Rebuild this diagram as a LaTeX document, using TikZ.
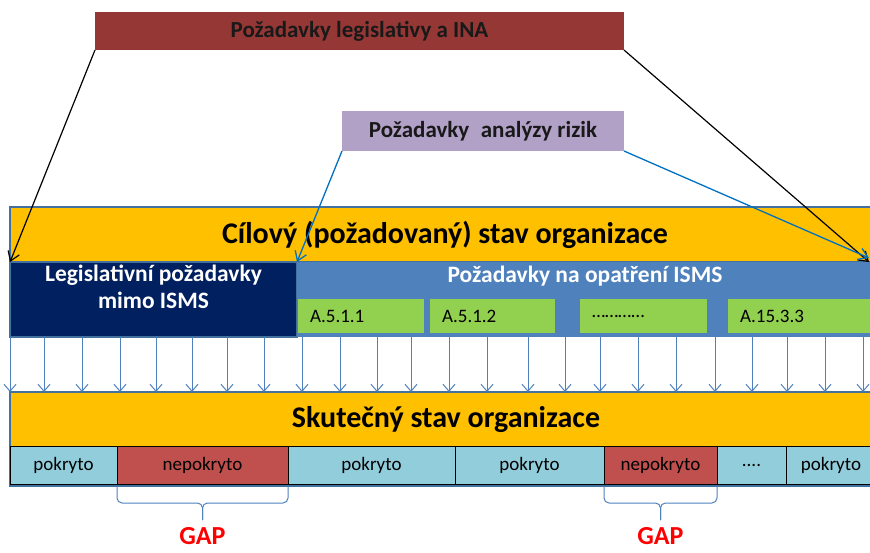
\documentclass[tikz,border=0pt]{standalone}
\usepackage{fontspec}
\setmainfont{Carlito}
\usetikzlibrary{arrows.meta,calc}
\definecolor{inared}{HTML}{953735}
\definecolor{riskpurple}{HTML}{B2A1C7}
\definecolor{goldfill}{HTML}{FFC000}
\definecolor{navyfill}{HTML}{002060}
\definecolor{ismsblue}{HTML}{4F81BD}
\definecolor{frameblue}{HTML}{41719C}
\definecolor{ctrlgreen}{HTML}{92D050}
\definecolor{coverblue}{HTML}{92CDDC}
\definecolor{gapred}{HTML}{C0504D}
\definecolor{linkblue}{HTML}{0070C0}
\definecolor{gaptext}{HTML}{FF0000}
\begin{document}
\begin{tikzpicture}[x=1pt,y=-1pt,
  box/.style={rectangle, inner sep=0pt, outer sep=0pt, anchor=north west},
  topbox/.style={box, font=\bfseries\fontsize{23}{27}\selectfont, text=black!90},
  goldbox/.style={box, fill=goldfill, draw=frameblue, line width=1.5pt, font=\bfseries\fontsize{30}{34}\selectfont},
  ctrlbox/.style={box, fill=ctrlgreen, minimum height=34pt, inner xsep=12pt, align=left, font=\fontsize{19}{22}\selectfont},
  cell/.style={box, draw=black, line width=0.9pt, minimum height=38pt, font=\fontsize{19}{22}\selectfont},
  downarrow/.style={draw=ismsblue, line width=1pt, -{Straight Barb[length=7pt,width=12pt]}},
  blackarrow/.style={draw=black, line width=1.2pt, -{Straight Barb[length=9pt,width=12pt]}},
  bluelink/.style={draw=linkblue, line width=1.3pt, -{Straight Barb[length=9pt,width=12pt]}},
  bracket/.style={draw=ismsblue, line width=1pt, rounded corners=5pt},
  gaplabel/.style={text=gaptext, inner sep=0pt, font=\bfseries\fontsize{26}{30}\selectfont}
]
\useasboundingbox (0,0) rectangle (870,552);

% source boxes
\node[topbox, fill=inared, minimum width=529pt, minimum height=38pt] (ina) at (95,12) {Požadavky legislativy a INA};
\node[topbox, fill=riskpurple, minimum width=282pt, minimum height=40pt] (risk) at (342,111) {Požadavky\hspace{0.5em}analýzy rizik};

% target state
\node[goldbox, minimum width=870pt, minimum height=55pt] (target) at (10,207) {Cílový (požadovaný) stav organizace};
\node[box, fill=navyfill, draw=frameblue, line width=1.2pt, minimum width=287pt, minimum height=75pt, text=white, align=center,
      font=\bfseries\fontsize{23.5}{27}\selectfont] (navy) at (10,262) {Legislativní požadavky\\mimo ISMS\\[-2pt]};
\node[box, fill=ismsblue, minimum width=576pt, minimum height=75pt] (isms) at (297,262) {};
\node[text=white, font=\bfseries\fontsize{23.5}{27}\selectfont] (ismstext) at (585,276) {Požadavky na opatření ISMS};

\node[ctrlbox, text width=102pt] (c1) at (298,299) {A.5.1.1};
\node[ctrlbox, text width=101pt] (c2) at (430,299) {A.5.1.2};
\node[ctrlbox, text width=103pt] (c3) at (580,299) {…………};
\node[ctrlbox, text width=123pt] (c4) at (728,299) {A.15.3.3};

% actual state
\node[goldbox, minimum width=870pt, minimum height=94pt] (actual) at (10,392) {};
\node[font=\bfseries\fontsize{30}{34}\selectfont] (actualtext) at (446,420) {Skutečný stav organizace};

\node[cell, fill=coverblue, minimum width=107pt] (p1) at (10,446) {pokryto};
\node[cell, fill=gapred, minimum width=171pt] (n1) at (117,446) {nepokryto};
\node[cell, fill=coverblue, minimum width=167pt] (p2) at (288,446) {pokryto};
\node[cell, fill=coverblue, minimum width=149pt] (p3) at (455,446) {pokryto};
\node[cell, fill=gapred, minimum width=113pt] (n2) at (604,446) {nepokryto};
\node[cell, fill=coverblue, minimum width=69pt] (p4) at (717,446) {....};
\node[cell, fill=coverblue, minimum width=90pt] (p5) at (786,446) {pokryto};

% connectors from sources
\coordinate (rightblack) at (869,262);
\coordinate (rightblue) at (869,258);
\draw[blackarrow] (ina.south west) -- (navy.north west);
\draw[blackarrow] (ina.south east) -- (rightblack);
\draw[bluelink] (risk.south west) -- (isms.north west);
\draw[bluelink] (risk.south east) -- (rightblue);

% mapping arrows
\foreach \x in {10,44,82,120,156,192,227,264,302,340,377,411,449,487,528,565,600,638,676,715,752,787,825,863}
  \draw[downarrow] (\x,0 |- navy.south) -- (\x,0 |- actual.north);

% gap brackets
\foreach \n/\lab in {n1/gapA, n2/gapB}{
  \draw[bracket] ($(\n.south west)+(0,2)$) -- ++(0,17) -- ($(\n.south)+(0,19)$) -- ++(0,17);
  \draw[bracket] ($(\n.south east)+(0,2)$) -- ++(0,17) -- ($(\n.south)+(0,19)$) -- ++(0,17);
  \node[gaplabel] (\lab) at ($(\n.south)+(0,52)$) {GAP};
}
\end{tikzpicture}
\end{document}
